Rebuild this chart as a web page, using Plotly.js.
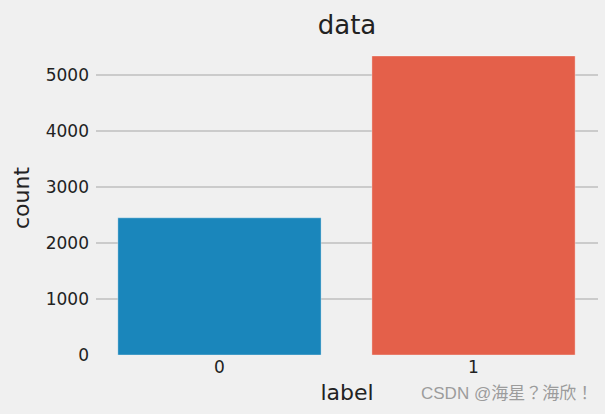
<!DOCTYPE html>
<html>
<head>
<meta charset="utf-8">
<script src="https://cdn.plot.ly/plotly-3.0.1.min.js"></script>
<style>html,body{margin:0;padding:0;background:#f0f0f0;}#chart{width:605px;height:414px;}</style>
</head>
<body>
<div id="chart"></div>
<script>
const categories = ['0', '1'];
const counts = [2450, 5340];
const barColors = ['#1a86bb', '#e4604a'];
const yTicks = [0, 1000, 2000, 3000, 4000, 5000];

const trace = {
  type: 'bar',
  x: categories,
  y: counts,
  width: 0.8,
  marker: {color: barColors, line: {color: 'rgba(255,255,255,0.35)', width: 1}},
  hoverinfo: 'skip'
};

const font = 'DejaVu Sans, sans-serif';
const layout = {
  width: 605, height: 414,
  paper_bgcolor: '#f0f0f0', plot_bgcolor: '#f0f0f0',
  margin: {l: 96, r: 7, t: 41, b: 59},
  showlegend: false,
  font: {family: font, color: '#222222', size: 17},
  title: {text: 'data', font: {family: font, size: 26, color: '#222222'}, x: 0.5, xanchor: 'center', xref: 'paper', y: 0.94, yanchor: 'middle', yref: 'container'},
  xaxis: {
    type: 'category', range: [-0.486, 1.49], showgrid: false, zeroline: false, showline: false,
    ticks: '', tickfont: {size: 17, color: '#222222'},
    title: {text: 'label', font: {size: 22, color: '#222222'}, standoff: 8}
  },
  yaxis: {
    range: [0, 5607], tickvals: yTicks, ticktext: yTicks.map(String),
    showgrid: true, gridcolor: '#cbcbcb', gridwidth: 1.3, zeroline: false, showline: false,
    ticks: '', tickfont: {size: 17, color: '#222222'}, ticklabelstandoff: 6,
    title: {text: 'count', font: {size: 22, color: '#222222'}, standoff: 10}
  },
  annotations: [{
    text: 'CSDN @海星？海欣！', xref: 'paper', yref: 'paper', x: 1, y: 0, xshift: -3, yshift: -50,
    xanchor: 'right', yanchor: 'bottom', showarrow: false,
    font: {family: 'Liberation Sans, Noto Sans CJK JP, sans-serif', size: 17, color: '#9c9c9c'}
  }]
};

Plotly.newPlot('chart', [trace], layout, {displayModeBar: false, staticPlot: true});
</script>
</body>
</html>
